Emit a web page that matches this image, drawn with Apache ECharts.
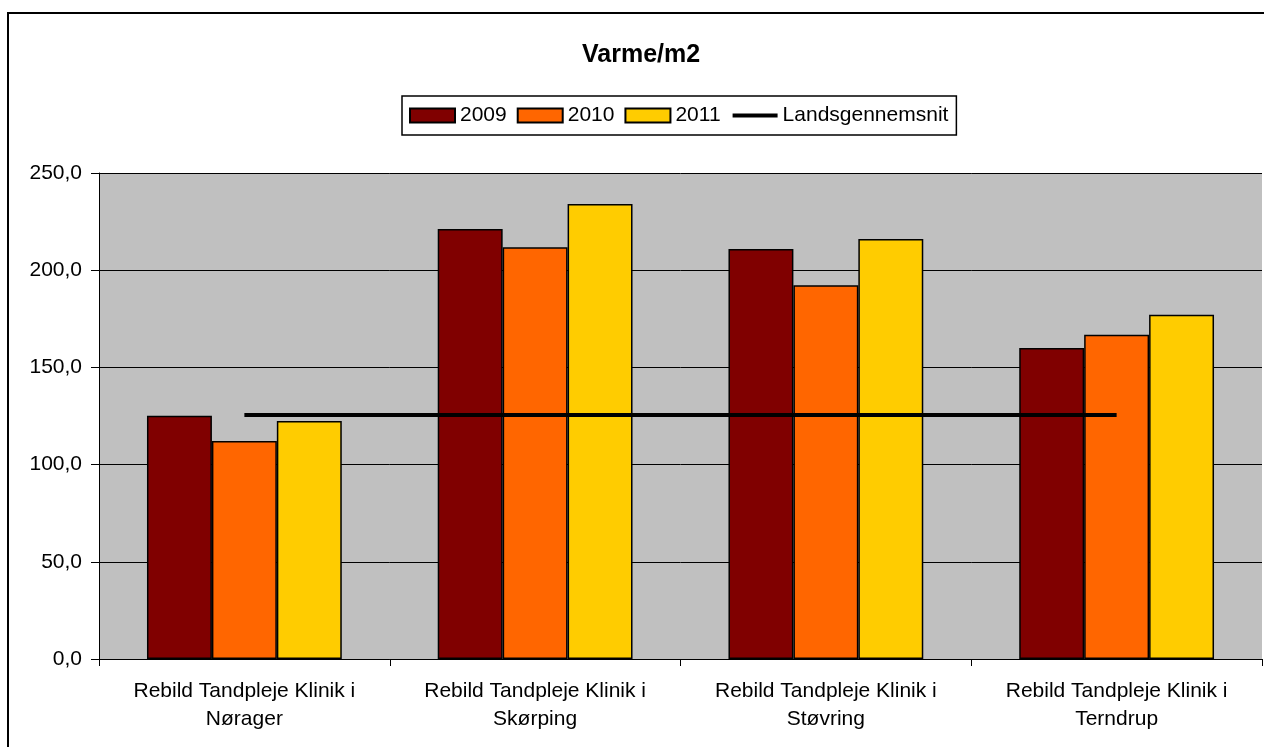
<!DOCTYPE html>
<html>
<head>
<meta charset="utf-8">
<script src="https://cdn.jsdelivr.net/npm/echarts@6/dist/echarts.min.js"></script>
<style>
  html, body { margin: 0; padding: 0; background: #fff; }
  #chart { width: 1264px; height: 747px; }
</style>
</head>
<body>
<div id="chart"></div>
<script>
// data
const categories = [
  'Rebild Tandpleje Klinik i\nNørager',
  'Rebild Tandpleje Klinik i\nSkørping',
  'Rebild Tandpleje Klinik i\nStøvring',
  'Rebild Tandpleje Klinik i\nTerndrup'
];
const v2009 = [125.1, 221.2, 210.9, 160.0];
const v2010 = [112.1, 211.8, 192.2, 166.8];
const v2011 = [122.4, 234.1, 216.0, 177.1];
const landsgennemsnit = [125.5, 125.5, 125.5, 125.5];
const yTicks = [0, 50, 100, 150, 200, 250];

const chart = echarts.init(document.getElementById('chart'));
const font = 'Liberation Sans, Arial, sans-serif';

function bar(name, color, data) {
  return {
    name: name,
    type: 'bar',
    barGap: 0,
    barCategoryGap: '33%',
    itemStyle: { color: color, borderColor: '#000', borderWidth: 1.5 },
    data: data
  };
}

const option = {
  animation: false,
  backgroundColor: '#fff',
  textStyle: { fontFamily: font },
  // outer frame, runs off the right and bottom edges
  graphic: [{
    type: 'rect',
    shape: { x: 8, y: 13, width: 1300, height: 800 },
    style: { fill: 'none', stroke: '#000', lineWidth: 2 },
    silent: true,
    z: -1
  }],
  title: {
    text: 'Varme/m2',
    left: 577,
    top: 38,
    textStyle: { fontFamily: font, fontSize: 25, fontWeight: 'bold', color: '#000' }
  },
  legend: {
    top: 96,
    left: 402,
    itemWidth: 45,
    itemHeight: 14,
    itemGap: 10,
    padding: [9, 8, 9, 7],
    borderColor: '#000',
    borderWidth: 1.5,
    textStyle: { fontFamily: font, fontSize: 21, color: '#000' },
    data: [
      { name: '2009', icon: 'rect' },
      { name: '2010', icon: 'rect' },
      { name: '2011', icon: 'rect' },
      // hide the dot ECharts puts on a line series icon
      { name: 'Landsgennemsnit', itemStyle: { opacity: 0 }, lineStyle: { width: 4 } }
    ]
  },
  grid: {
    left: 99,
    right: 2,
    top: 173,
    bottom: 88,
    show: true,
    backgroundColor: '#c0c0c0',
    borderWidth: 0
  },
  xAxis: {
    type: 'category',
    data: categories,
    axisLine: { lineStyle: { color: '#000', width: 1 } },
    axisTick: { show: true, length: 7, lineStyle: { color: '#000' } },
    axisLabel: {
      color: '#000',
      fontFamily: font,
      fontSize: 21,
      lineHeight: 28,
      margin: 18
    }
  },
  yAxis: {
    type: 'value',
    min: yTicks[0],
    max: yTicks[yTicks.length - 1],
    interval: 50,
    axisLine: { show: true, lineStyle: { color: '#000', width: 1 } },
    axisTick: { show: true, length: 8, lineStyle: { color: '#000' } },
    axisLabel: {
      color: '#000',
      fontFamily: font,
      fontSize: 21,
      margin: 17,
      formatter: v => v.toFixed(1).replace('.', ',')
    },
    splitLine: { show: true, lineStyle: { color: '#000', width: 1 } }
  },
  series: [
    bar('2009', '#800000', v2009),
    bar('2010', '#ff6600', v2010),
    bar('2011', '#ffcc00', v2011),
    {
      name: 'Landsgennemsnit',
      type: 'line',
      symbol: 'none',
      lineStyle: { color: '#000', width: 4 },
      itemStyle: { color: '#000' },
      z: 5,
      data: landsgennemsnit
    }
  ]
};

chart.setOption(option);
</script>
</body>
</html>
